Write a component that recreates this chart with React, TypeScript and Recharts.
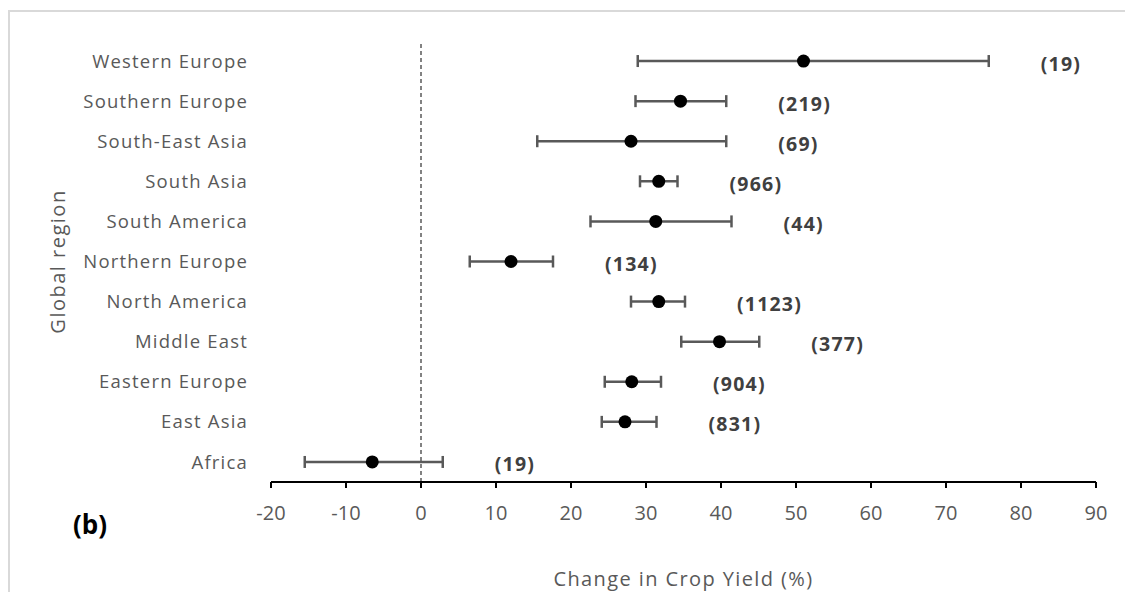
import { ScatterChart, Scatter, XAxis, YAxis, ErrorBar, ReferenceLine, Label } from "recharts";

// Regions, top row first
const REGIONS = [
  "Western Europe",
  "Southern Europe",
  "South-East Asia",
  "South Asia",
  "South America",
  "Northern Europe",
  "North America",
  "Middle East",
  "Eastern Europe",
  "East Asia",
  "Africa",
];

// Mean change in crop yield (%) with lower / upper bounds
const MEAN = [51.0, 34.6, 28.0, 31.7, 31.3, 12.0, 31.7, 39.8, 28.1, 27.2, -6.5];
const LOWER = [28.9, 28.6, 15.5, 29.2, 22.6, 6.5, 28.0, 34.7, 24.5, 24.1, -15.5];
const UPPER = [75.7, 40.7, 40.7, 34.2, 41.4, 17.6, 35.2, 45.1, 32.0, 31.4, 2.9];

// Number of observations per region
const COUNTS = [19, 219, 69, 966, 44, 134, 1123, 377, 904, 831, 19];

const X_TICKS = [-20, -10, 0, 10, 20, 30, 40, 50, 60, 70, 80, 90];

const FONT = "'Open Sans', sans-serif";
const GREY = "#595959";

// Africa sits on row 1 at the bottom, Western Europe on the top row
const rowOf = (i: number) => REGIONS.length - i;
const ROW_TICKS = REGIONS.map((_, i) => rowOf(i));

const points = REGIONS.map((region, i) => ({
  region,
  x: MEAN[i],
  y: rowOf(i),
  err: [MEAN[i] - LOWER[i], UPPER[i] - MEAN[i]],
}));

// count labels hang off the upper end of each interval
const countAnchors = REGIONS.map((region, i) => ({
  region,
  x: UPPER[i],
  y: rowOf(i),
  n: COUNTS[i],
}));

const Dot = (p: any) => <circle cx={p.cx} cy={p.cy} r={6.5} fill="#000000" />;

const CountLabel = (p: any) => (
  <text
    x={p.cx + 52}
    y={p.cy + 2}
    dominantBaseline="central"
    fontFamily={FONT}
    fontWeight={700}
    fontSize={19.5}
    letterSpacing={1.2}
    fill="#404040"
  >
    ({p.payload.n})
  </text>
);

export default function App() {
  return (
    <div
      style={{
        position: "fixed",
        left: 8,
        top: 10,
        width: 1117,
        height: 582,
        borderTop: "2px solid #d9d9d9",
        borderLeft: "2px solid #d9d9d9",
        boxSizing: "border-box",
        background: "#ffffff",
        overflow: "hidden",
      }}
    >
      <ScatterChart
        width={1115}
        height={580}
        margin={{ top: 29, right: 29, bottom: 50, left: 40 }}
      >
        <XAxis
          type="number"
          dataKey="x"
          domain={[-20, 90]}
          ticks={X_TICKS}
          interval={0}
          height={60}
          axisLine={{ stroke: "#000000", strokeWidth: 2 }}
          tickLine={{ stroke: "#000000", strokeWidth: 2 }}
          tickSize={6}
          tickMargin={18}
          tick={{ fontFamily: FONT, fontSize: 20, fill: GREY }}
        >
          <Label
            content={({ viewBox }: any) => (
              <text
                x={viewBox.x + viewBox.width / 2}
                y={viewBox.y + 96}
                textAnchor="middle"
                dominantBaseline="central"
                fontFamily={FONT}
                fontSize={20}
                letterSpacing={1.4}
                fill={GREY}
              >
                Change in Crop Yield (%)
              </text>
            )}
          />
        </XAxis>
        <YAxis
          type="number"
          dataKey="y"
          domain={[0.5, 11.5]}
          ticks={ROW_TICKS}
          interval={0}
          width={221}
          axisLine={false}
          tickLine={false}
          tickSize={0}
          tickMargin={23}
          tickFormatter={(v: number) => REGIONS[REGIONS.length - v]}
          tick={{ fontFamily: FONT, fontSize: 18.5, fill: GREY, letterSpacing: 1.2 }}
        >
          <Label
            content={({ viewBox }: any) => (
              <text
                x={viewBox.x + 7}
                y={viewBox.y + viewBox.height / 2}
                transform={`rotate(-90 ${viewBox.x + 7} ${viewBox.y + viewBox.height / 2})`}
                textAnchor="middle"
                dominantBaseline="central"
                fontFamily={FONT}
                fontSize={20}
                letterSpacing={1.5}
                fill={GREY}
              >
                Global region
              </text>
            )}
          />
        </YAxis>
        <ReferenceLine x={0} stroke="#404040" strokeWidth={1.3} strokeDasharray="4 3" />
        <Scatter data={points} shape={Dot} isAnimationActive={false}>
          <ErrorBar
            dataKey="err"
            direction="x"
            width={6}
            stroke={GREY}
            strokeWidth={2.5}
            isAnimationActive={false}
          />
        </Scatter>
        <Scatter data={countAnchors} shape={CountLabel} isAnimationActive={false} />
      </ScatterChart>
      <div
        style={{
          position: "absolute",
          left: 63,
          top: 494,
          fontFamily: FONT,
          fontWeight: 700,
          fontSize: 26,
          color: "#000000",
        }}
      >
        (b)
      </div>
    </div>
  );
}
